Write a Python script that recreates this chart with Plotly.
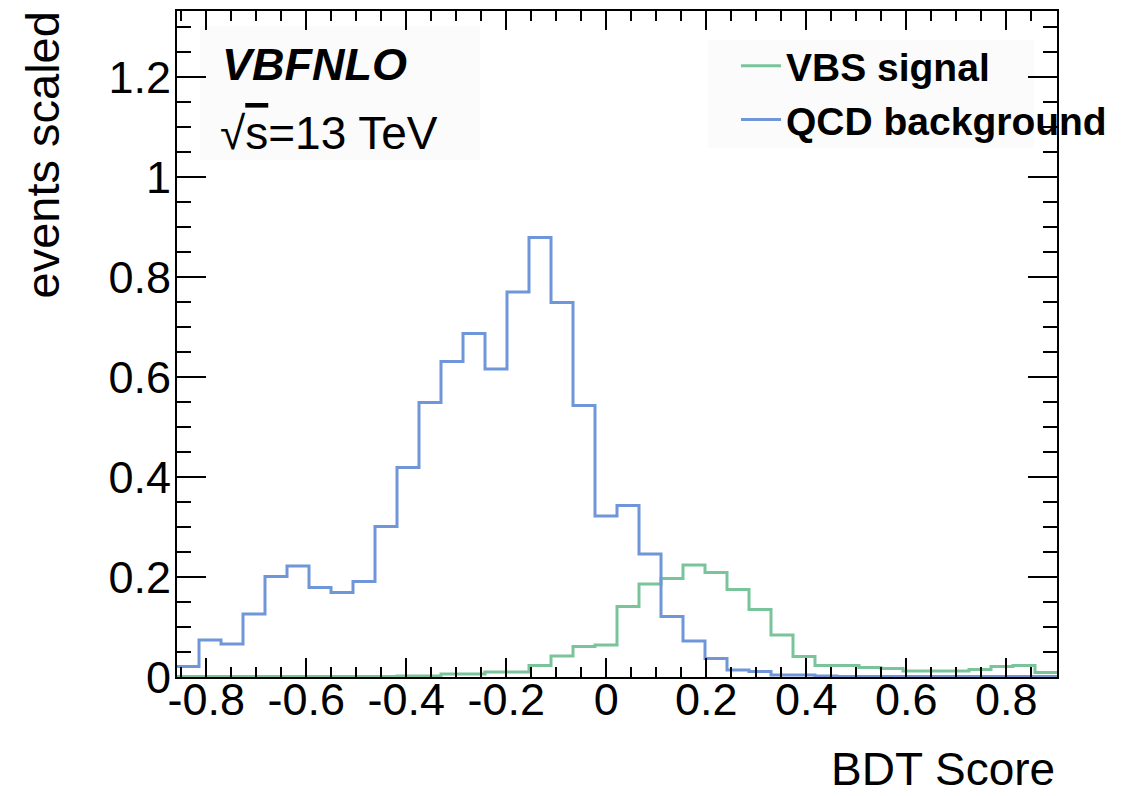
import plotly.graph_objects as go

# Histogram binning (40 bins)
bin_low = -0.8586
bin_width = 0.044
n_bins = 40

# VBS signal (green), per bin
vbs_signal = [0.001, 0.001, 0.001, 0.001, 0.001, 0.001, 0.001, 0.001, 0.001, 0.001,
              0.002, 0.002, 0.006, 0.006, 0.010, 0.010, 0.023, 0.042, 0.061, 0.064,
              0.141, 0.186, 0.197, 0.224, 0.209, 0.175, 0.135, 0.084, 0.041, 0.023,
              0.023, 0.019, 0.017, 0.012, 0.012, 0.012, 0.015, 0.021, 0.023, 0.009]

# QCD background (blue), per bin
qcd_background = [0.021, 0.074, 0.066, 0.126, 0.201, 0.222, 0.179, 0.169, 0.191, 0.301,
                  0.419, 0.549, 0.631, 0.687, 0.616, 0.770, 0.879, 0.749, 0.543, 0.322,
                  0.343, 0.246, 0.121, 0.072, 0.037, 0.014, 0.011, 0.004, 0.004, 0.002,
                  0.001, 0.001, 0.001, 0.001, 0.001, 0.001, 0.001, 0.001, 0.001, 0.001]

x_tickvals = [-0.8, -0.6, -0.4, -0.2, 0, 0.2, 0.4, 0.6, 0.8]
x_ticktext = ["-0.8", "-0.6", "-0.4", "-0.2", "0", "0.2", "0.4", "0.6", "0.8"]
y_tickvals = [0, 0.2, 0.4, 0.6, 0.8, 1.0, 1.2]
y_ticktext = ["0", "0.2", "0.4", "0.6", "0.8", "1", "1.2"]

edges = [bin_low + i * bin_width for i in range(n_bins + 1)]

GREEN = "rgb(122,196,156)"
BLUE = "rgb(112,150,218)"
FONT = "Liberation Sans, Arial, Helvetica, sans-serif"

# page is 1145x796, but the html body has an 8px margin -> figure starts at (8, 8)
OFF = 8
W, H = 1145 - OFF, 796 - OFF
# plot area in page pixels: left 177, right 1057, top 11, bottom 677
L = 177 - OFF
T = 11 - OFF
R = W - (1057 - OFF)
B = H - (677 - OFF)
pw, ph = W - L - R, H - T - B


def px_x(p):
    return (p - OFF - L) / pw


def px_y(p):
    return (H - B - (p - OFF)) / ph


fig = go.Figure()
fig.add_trace(go.Scatter(x=edges, y=vbs_signal + [vbs_signal[-1]], mode="lines",
                         line=dict(color=GREEN, width=3, shape="hv"),
                         name="VBS signal"))
fig.add_trace(go.Scatter(x=edges, y=qcd_background + [qcd_background[-1]], mode="lines",
                         line=dict(color=BLUE, width=3, shape="hv"),
                         name="QCD background"))

axis_common = dict(showline=True, linecolor="black", linewidth=2, mirror="ticks",
                   ticks="inside", tickcolor="black", tickwidth=2,
                   showgrid=False, zeroline=False,
                   tickfont=dict(family=FONT, size=45, color="black"))

fig.update_xaxes(range=[edges[0], edges[-1]], tickmode="array",
                 tickvals=x_tickvals, ticktext=x_ticktext, ticklen=19,
                 ticklabelstandoff=-18,
                 minor=dict(dtick=0.05, tick0=0, ticklen=10, ticks="inside",
                            tickcolor="black", tickwidth=2),
                 **axis_common)
fig.update_yaxes(range=[0, 1.332], tickmode="array",
                 tickvals=y_tickvals, ticktext=y_ticktext, ticklen=29,
                 ticklabelstandoff=-5,
                 minor=dict(dtick=0.05, tick0=0, ticklen=14, ticks="inside",
                            tickcolor="black", tickwidth=2),
                 **axis_common)

# faint boxes behind text blocks
fig.add_shape(type="rect", xref="paper", yref="paper",
              x0=px_x(200), x1=px_x(480), y0=px_y(160), y1=px_y(26),
              fillcolor="rgba(245,245,245,0.4)", line=dict(width=0), layer="below")
fig.add_shape(type="rect", xref="paper", yref="paper",
              x0=px_x(708), x1=px_x(1034), y0=px_y(148), y1=px_y(40),
              fillcolor="rgba(245,245,245,0.4)", line=dict(width=0), layer="below")

fig.add_annotation(text="<b><i>VBFNLO</i></b>", xref="paper", yref="paper",
                   x=px_x(220), y=px_y(65), xanchor="left", yanchor="middle",
                   showarrow=False, font=dict(family=FONT, size=45, color="black"))
fig.add_annotation(text="√<span style='text-decoration:overline'>s</span>=13 TeV",
                   xref="paper", yref="paper",
                   x=px_x(218), y=px_y(133), xanchor="left", yanchor="middle",
                   showarrow=False, font=dict(family=FONT, size=46, color="black"))

# axis titles (ROOT style, aligned to the end of axis)
fig.add_annotation(text="BDT Score", xref="paper", yref="paper",
                   x=px_x(1057), y=px_y(769), xanchor="right", yanchor="middle",
                   showarrow=False, font=dict(family=FONT, size=46, color="black"))
fig.add_annotation(text="events scaled", xref="paper", yref="paper",
                   x=px_x(42), y=px_y(10), xanchor="center", yanchor="top",
                   textangle=-90, showarrow=False,
                   font=dict(family=FONT, size=47, color="black"))

fig.update_layout(
    width=W, height=H,
    margin=dict(l=L, r=R, t=T, b=B, autoexpand=False),
    paper_bgcolor="white", plot_bgcolor="white",
    showlegend=True,
    legend=dict(x=px_x(736), y=px_y(34), xanchor="left", yanchor="top",
                bgcolor="rgba(0,0,0,0)", borderwidth=0,
                font=dict(family=FONT, size=39, color="black", weight="bold"),
                itemwidth=40, tracegroupgap=0),
)

fig.write_html("out.html")
